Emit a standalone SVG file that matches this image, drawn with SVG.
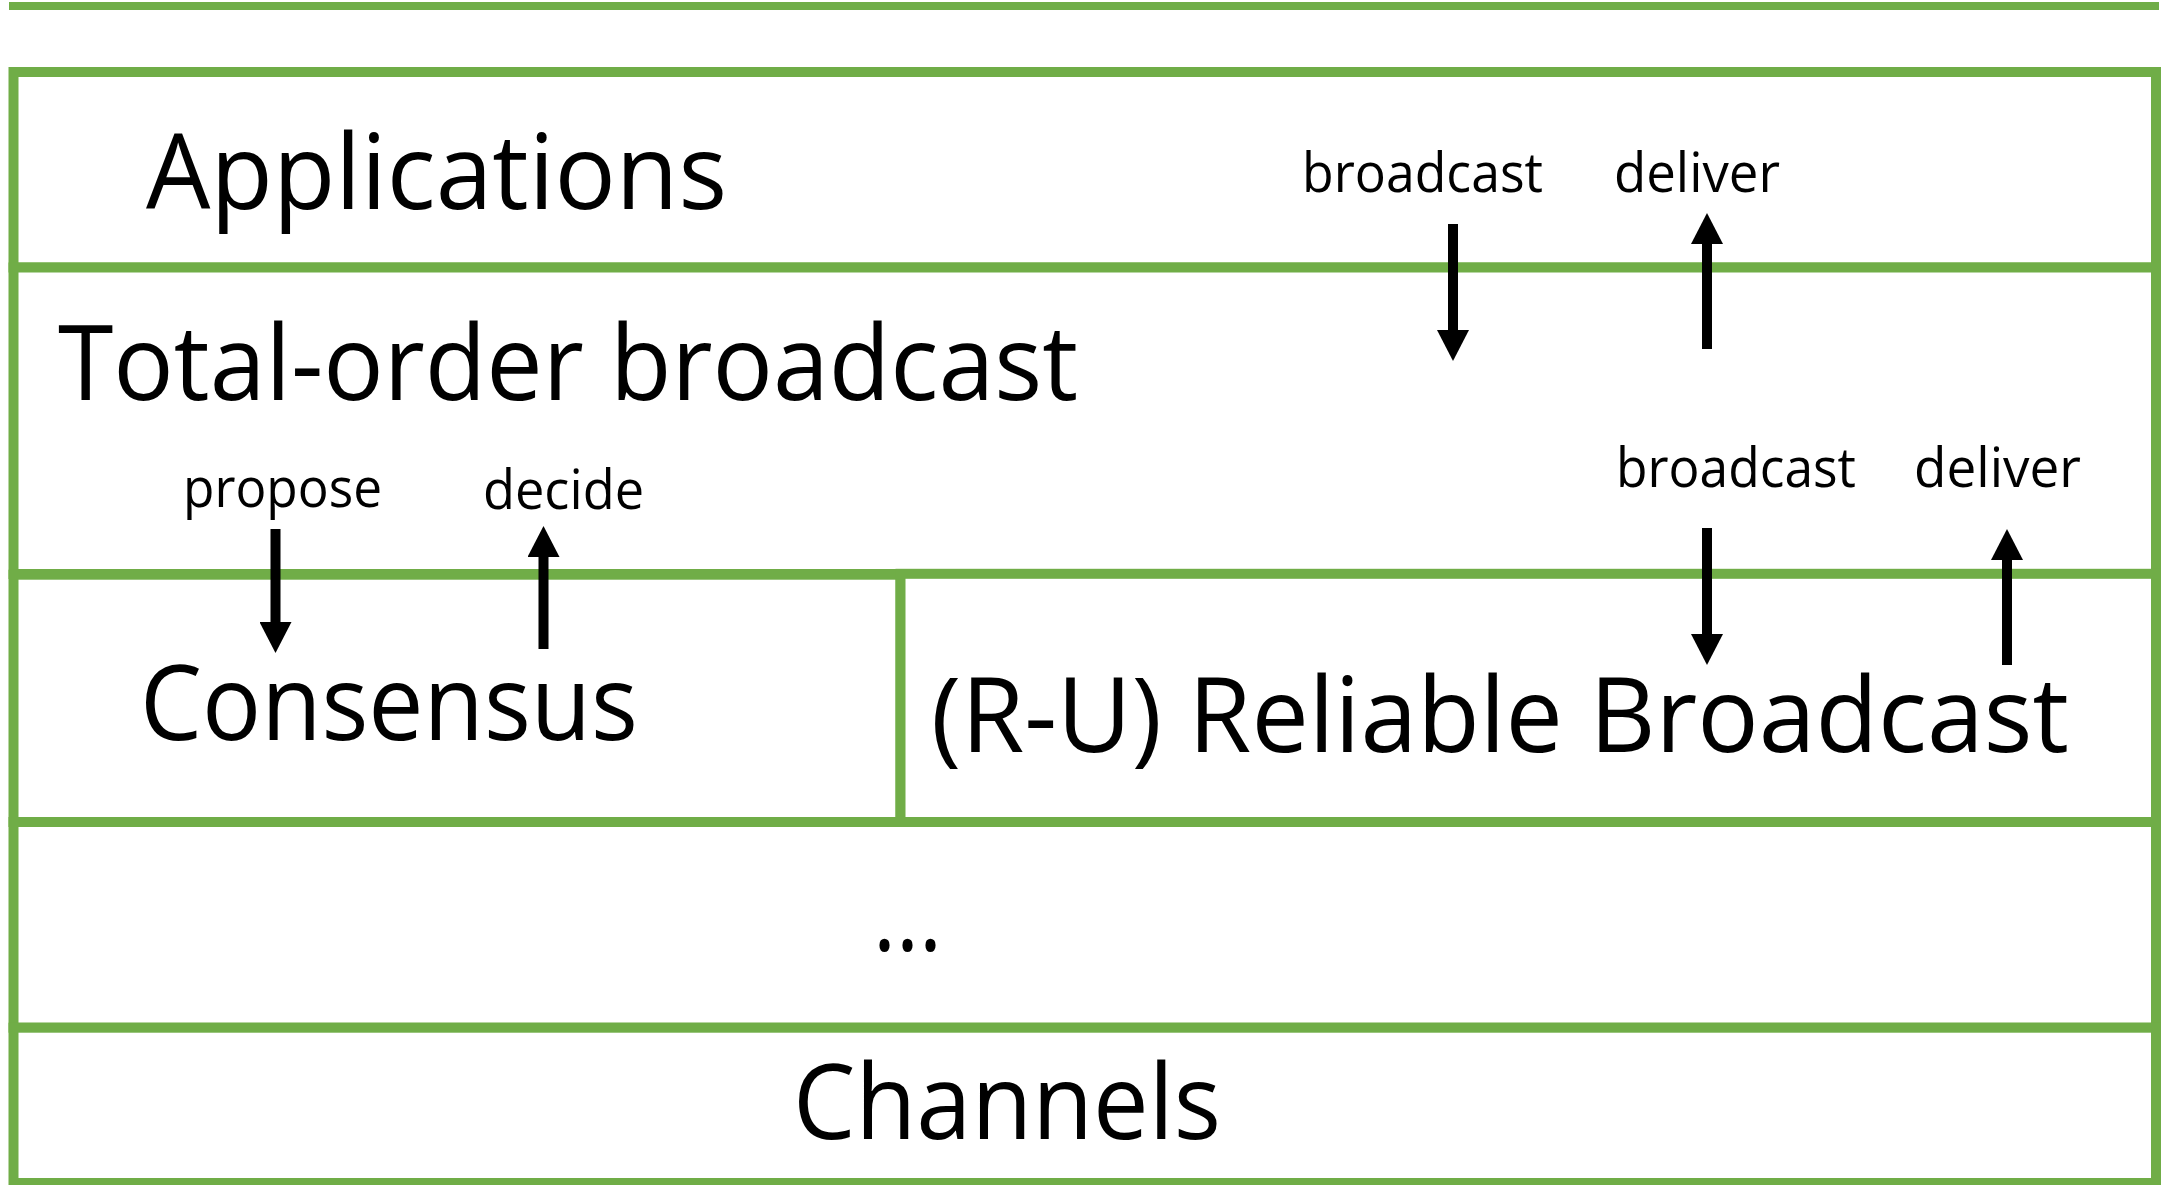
<svg xmlns="http://www.w3.org/2000/svg" width="2162" height="1185" viewBox="0 0 2162 1185">
  <style>
    .layer { fill: #ffffff; stroke: #70ad47; stroke-width: 10; }
    .big { font-family: "Open Sans", "Noto Sans", "Liberation Sans", sans-serif; font-size: 104px; fill: #000000; }
    .small { font-family: "Open Sans", "Noto Sans", "Liberation Sans", sans-serif; font-size: 54px; fill: #000000; }
    .arrow { stroke: #000000; stroke-width: 10; fill: none; }
  </style>
  <defs>
    <marker id="head" markerUnits="userSpaceOnUse" viewBox="0 0 31 32" markerWidth="31" markerHeight="32" refX="0" refY="16" orient="auto">
      <path d="M0,0 L31,16 L0,32 Z" fill="#000000"/>
    </marker>
  </defs>
  <rect x="0" y="0" width="2162" height="1185" fill="#ffffff"/>
  <g id="frame">
    <line x1="9" y1="6" x2="2159" y2="6" stroke="#70ad47" stroke-width="8"/>
  </g>
  <g id="applications">
    <rect class="layer" x="13.5" y="72" width="2142.5" height="195.5"/>
    <text class="big" x="146" y="209" textLength="581" lengthAdjust="spacingAndGlyphs">Applications</text>
  </g>
  <g id="total-order-broadcast">
    <rect class="layer" x="13.5" y="267.5" width="2142.5" height="306.5"/>
    <text class="big" x="58" y="400" textLength="1020" lengthAdjust="spacingAndGlyphs">Total-order broadcast</text>
  </g>
  <g id="consensus">
    <rect class="layer" x="13.5" y="574.7" width="887" height="247.3"/>
    <text class="big" x="140" y="740" textLength="498" lengthAdjust="spacingAndGlyphs">Consensus</text>
  </g>
  <g id="reliable-broadcast">
    <rect class="layer" x="900.5" y="573.8" width="1255.5" height="248.2"/>
    <text class="big" x="931" y="752" textLength="1138" lengthAdjust="spacingAndGlyphs">(R-U) Reliable Broadcast</text>
  </g>
  <g id="more-layers">
    <rect class="layer" x="13.5" y="822" width="2142.5" height="205.7"/>
    <text class="big" x="873" y="951" textLength="69" lengthAdjust="spacingAndGlyphs">...</text>
  </g>
  <g id="channels">
    <rect class="layer" x="13.5" y="1027.7" width="2142.5" height="155.3"/>
    <text class="big" x="793" y="1139" textLength="428" lengthAdjust="spacingAndGlyphs">Channels</text>
  </g>
  <g id="labels">
    <text class="small" x="1302" y="192" textLength="241" lengthAdjust="spacingAndGlyphs">broadcast</text>
    <text class="small" x="1614" y="192" textLength="166" lengthAdjust="spacingAndGlyphs">deliver</text>
    <text class="small" x="1616" y="487" textLength="240" lengthAdjust="spacingAndGlyphs">broadcast</text>
    <text class="small" x="1914" y="487" textLength="167" lengthAdjust="spacingAndGlyphs">deliver</text>
    <text class="small" x="183" y="507" textLength="199" lengthAdjust="spacingAndGlyphs">propose</text>
    <text class="small" x="483" y="509" textLength="161" lengthAdjust="spacingAndGlyphs">decide</text>
  </g>
  <g id="connectors">
    <line class="arrow" x1="1453" y1="224" x2="1453" y2="330" marker-end="url(#head)"/>
    <line class="arrow" x1="1707" y1="349" x2="1707" y2="244" marker-end="url(#head)"/>
    <line class="arrow" x1="275.5" y1="529" x2="275.5" y2="622" marker-end="url(#head)"/>
    <line class="arrow" x1="543.5" y1="649" x2="543.5" y2="557" marker-end="url(#head)"/>
    <line class="arrow" x1="1707" y1="528" x2="1707" y2="634" marker-end="url(#head)"/>
    <line class="arrow" x1="2007" y1="665" x2="2007" y2="560" marker-end="url(#head)"/>
  </g>
</svg>
